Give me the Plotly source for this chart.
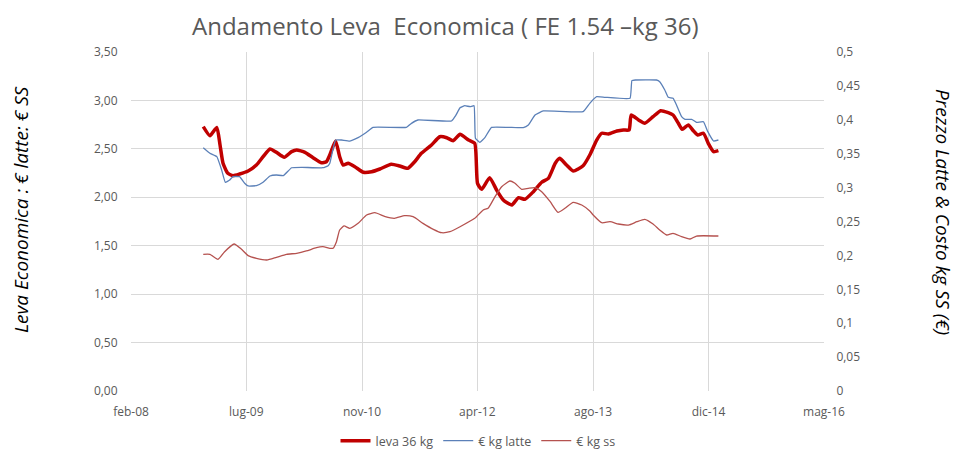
import plotly.graph_objects as go

# ---- data ----
leva_dates = ["2008-12-11","2009-01-09","2009-02-08","2009-02-22","2009-03-07","2009-03-28","2009-04-19","2009-05-18",
    "2009-06-24","2009-07-30","2009-08-28","2009-09-27","2009-10-25","2009-11-28","2009-12-30","2010-01-21",
    "2010-02-26","2010-04-02","2010-05-08","2010-05-30","2010-06-14","2010-07-09","2010-07-27","2010-08-11",
    "2010-09-02","2010-10-01","2010-11-07","2010-12-13","2011-01-18","2011-03-08","2011-04-14","2011-05-19",
    "2011-06-18","2011-07-17","2011-08-30","2011-10-05","2011-11-04","2011-12-02","2012-01-01","2012-02-07",
    "2012-03-05","2012-03-17","2012-04-04","2012-05-09","2012-06-08","2012-07-07","2012-08-13","2012-09-11",
    "2012-10-09","2012-11-15","2012-12-21","2013-01-19","2013-02-18","2013-03-09","2013-04-08","2013-05-07",
    "2013-06-19","2013-07-18","2013-08-17","2013-09-08","2013-10-07","2013-11-13","2013-12-11","2014-01-05",
    "2014-01-14","2014-02-15","2014-03-14","2014-04-19","2014-05-22","2014-06-24","2014-07-15","2014-08-07",
    "2014-08-24","2014-09-19","2014-10-11","2014-10-30","2014-11-24","2014-12-15","2015-01-07","2015-01-28"]
leva_values = [2.729,2.636,2.722,2.540,2.351,2.248,2.223,2.240,
    2.271,2.333,2.419,2.498,2.464,2.413,2.471,2.488,
    2.464,2.409,2.357,2.367,2.437,2.581,2.419,2.333,
    2.351,2.316,2.258,2.264,2.292,2.341,2.323,2.299,
    2.367,2.454,2.540,2.625,2.615,2.584,2.650,2.591,
    2.557,2.144,2.082,2.202,2.075,1.972,1.920,1.996,
    1.979,2.058,2.155,2.196,2.351,2.402,2.333,2.271,
    2.326,2.437,2.591,2.661,2.653,2.684,2.695,2.695,
    2.849,2.798,2.764,2.832,2.894,2.873,2.849,2.764,
    2.702,2.746,2.687,2.643,2.661,2.557,2.471,2.481]

latte_dates = ["2008-12-11","2009-01-09","2009-02-08","2009-03-01","2009-03-17","2009-04-05","2009-04-19","2009-05-18",
    "2009-06-09","2009-06-24","2009-07-30","2009-08-28","2009-09-27","2009-10-25","2009-11-24","2009-12-30",
    "2010-02-13","2010-05-15","2010-06-07","2010-06-14","2010-07-09","2010-08-04","2010-09-09","2010-10-15",
    "2010-11-21","2010-12-19","2011-05-13","2011-06-04","2011-07-02","2011-11-25","2011-12-13","2012-01-01",
    "2012-01-22","2012-02-14","2012-03-02","2012-03-08","2012-03-27","2012-04-18","2012-05-17","2012-10-02",
    "2012-10-24","2012-11-22","2012-12-28","2013-06-19","2013-07-18","2013-08-17","2013-09-22","2014-01-09",
    "2014-01-17","2014-02-01","2014-05-04","2014-05-18","2014-06-09","2014-06-24","2014-07-15","2014-07-30",
    "2014-08-21","2014-09-05","2014-10-04","2014-10-25","2014-11-24","2014-12-13","2015-01-07","2015-01-28"]
latte_values = [0.3588,0.3506,0.3456,0.3260,0.3078,0.3112,0.3161,0.3161,
    0.3063,0.3024,0.3028,0.3078,0.3171,0.3186,0.3176,0.3293,
    0.3299,0.3293,0.3323,0.3358,0.3702,0.3702,0.3687,0.3736,
    0.3816,0.3889,0.3889,0.3948,0.3997,0.3982,0.4060,0.4178,
    0.4208,0.4193,0.4208,0.3727,0.3668,0.3736,0.3889,0.3884,
    0.3923,0.4071,0.4130,0.4120,0.4243,0.4341,0.4332,0.4317,
    0.4577,0.4587,0.4587,0.4562,0.4440,0.4332,0.4317,0.4218,
    0.4046,0.4007,0.4007,0.3963,0.3972,0.3825,0.3687,0.3702]

ss_dates = ["2008-12-11","2009-01-09","2009-02-13","2009-03-14","2009-04-24","2009-05-25","2009-06-24","2009-07-30",
    "2009-09-13","2009-10-25","2009-12-08","2010-01-21","2010-03-04","2010-04-17","2010-05-15","2010-06-14",
    "2010-06-28","2010-07-13","2010-07-27","2010-08-15","2010-09-09","2010-10-15","2010-11-21","2010-12-27",
    "2011-02-10","2011-03-22","2011-05-05","2011-06-11","2011-07-24","2011-09-07","2011-10-13","2011-11-18",
    "2012-01-01","2012-03-05","2012-04-11","2012-05-02","2012-06-01","2012-06-30","2012-08-05","2012-08-27",
    "2012-09-25","2012-10-24","2012-11-22","2012-12-21","2013-01-27","2013-03-02","2013-04-01","2013-05-07",
    "2013-06-13","2013-07-18","2013-08-02","2013-09-08","2013-10-14","2013-11-19","2014-01-02","2014-02-08",
    "2014-03-14","2014-04-19","2014-05-18","2014-06-17","2014-07-15","2014-08-21","2014-09-27","2014-10-25",
    "2015-01-28"]
ss_values = [0.2016,0.2016,0.1942,0.2055,0.2168,0.2094,0.1996,0.1957,
    0.1932,0.1972,0.2016,0.2031,0.2065,0.2114,0.2128,0.2105,
    0.2105,0.2202,0.2375,0.2434,0.2400,0.2473,0.2596,0.2630,
    0.2571,0.2547,0.2586,0.2571,0.2473,0.2385,0.2335,0.2350,
    0.2423,0.2547,0.2670,0.2695,0.2866,0.3013,0.3097,0.3063,
    0.2975,0.2990,0.2999,0.2940,0.2792,0.2636,0.2695,0.2783,
    0.2743,0.2655,0.2596,0.2482,0.2497,0.2463,0.2448,0.2497,
    0.2532,0.2463,0.2375,0.2301,0.2326,0.2276,0.2242,0.2286,
    0.2286]

x_tickvals = ["2008-02-01","2009-06-16","2010-11-01","2012-03-16","2013-08-01","2014-12-16","2016-05-01"]
x_ticktext = ["feb-08","lug-09","nov-10","apr-12","ago-13","dic-14","mag-16"]
y2_tickvals = [0,0.05,0.1,0.15,0.2,0.25,0.3,0.35,0.4,0.45,0.5]
y2_ticktext = ["0","0,05","0,1","0,15","0,2","0,25","0,3","0,35","0,4","0,45","0,5"]

TICK_FONT = dict(family="Open Sans, Liberation Sans, sans-serif", size=12, color="#595959")
GRID = "#d9d9d9"

# the page body adds an 8px offset; figure is sized so the page looks 960x450
OFF = 8
W, H = 960 - OFF, 450 - OFF
# plot-area edges in page pixels
PL, PR, PT, PB = 131, 824, 52, 391
L, T = PL - OFF, PT - OFF
R, B = W - (PR - OFF), H - (PB - OFF)
pw, ph = W - L - R, H - T - B

def px_to_paper(px, py):
    # page pixel -> paper coords
    return (px - OFF - L) / pw, (H - B - (py - OFF)) / ph

fig = go.Figure()
fig.add_trace(go.Scatter(x=leva_dates, y=leva_values, name="leva 36 kg", mode="lines",
                         line=dict(color="#c00000", width=3.5, shape="spline", smoothing=0.5)))
fig.add_trace(go.Scatter(x=latte_dates, y=latte_values, name="€ kg latte", mode="lines", yaxis="y2",
                         line=dict(color="#5b80b8", width=1.3, shape="spline", smoothing=0.3)))
fig.add_trace(go.Scatter(x=ss_dates, y=ss_values, name="€ kg ss", mode="lines", yaxis="y2",
                         line=dict(color="#b5524f", width=1.3, shape="spline", smoothing=0.5)))

lx, ly = px_to_paper(478, 441)
tx, ty = px_to_paper(445, 8.5)
ax1, ay1 = px_to_paper(21, 210)
ax2, ay2 = px_to_paper(943, 212)

fig.update_layout(
    width=W, height=H,
    margin=dict(l=L, r=R, t=T, b=B, autoexpand=False),
    paper_bgcolor="white", plot_bgcolor="white",
    separators=",.",
    showlegend=True,
    legend=dict(orientation="h", x=lx, xanchor="center", y=ly, yanchor="middle",
                font=dict(family="Open Sans, Liberation Sans, sans-serif", size=12.5, color="#595959"),
                bgcolor="rgba(0,0,0,0)"),
    xaxis=dict(type="date", range=["2008-02-01", "2016-05-01"], tickvals=x_tickvals, ticktext=x_ticktext,
               showgrid=True, gridcolor=GRID, gridwidth=1, zeroline=False, showline=False,
               tickfont=TICK_FONT, ticks="outside", ticklen=10, tickcolor="rgba(0,0,0,0)"),
    yaxis=dict(range=[0, 3.5], dtick=0.5, tickformat=".2f", showgrid=True, gridcolor=GRID,
               zeroline=False, showline=False, tickfont=TICK_FONT,
               ticks="outside", ticklen=10, tickcolor="rgba(0,0,0,0)"),
    yaxis2=dict(range=[0, 0.5], overlaying="y", side="right", tickvals=y2_tickvals, ticktext=y2_ticktext,
                showgrid=False, zeroline=False, showline=False, tickfont=TICK_FONT,
                ticks="outside", ticklen=9, tickcolor="rgba(0,0,0,0)"),
    annotations=[
        dict(text="Andamento Leva  Economica ( FE 1.54 –kg 36)", x=tx, y=ty, xref="paper", yref="paper",
             xanchor="center", yanchor="top", showarrow=False, borderpad=0,
             font=dict(family="Open Sans, sans-serif", size=24, color="#595959")),
        dict(text="<i>Leva Economica : € latte: € SS</i>", textangle=-90, x=ax1, y=ay1, xref="paper", yref="paper",
             xanchor="center", yanchor="middle", showarrow=False,
             font=dict(family="Open Sans, sans-serif", size=19, color="#000000")),
        dict(text="<i>Prezzo Latte &amp; Costo kg SS (€)</i>", textangle=90, x=ax2, y=ay2, xref="paper", yref="paper",
             xanchor="center", yanchor="middle", showarrow=False,
             font=dict(family="Open Sans, sans-serif", size=19, color="#000000")),
    ],
)

fig.write_html("out.html")
